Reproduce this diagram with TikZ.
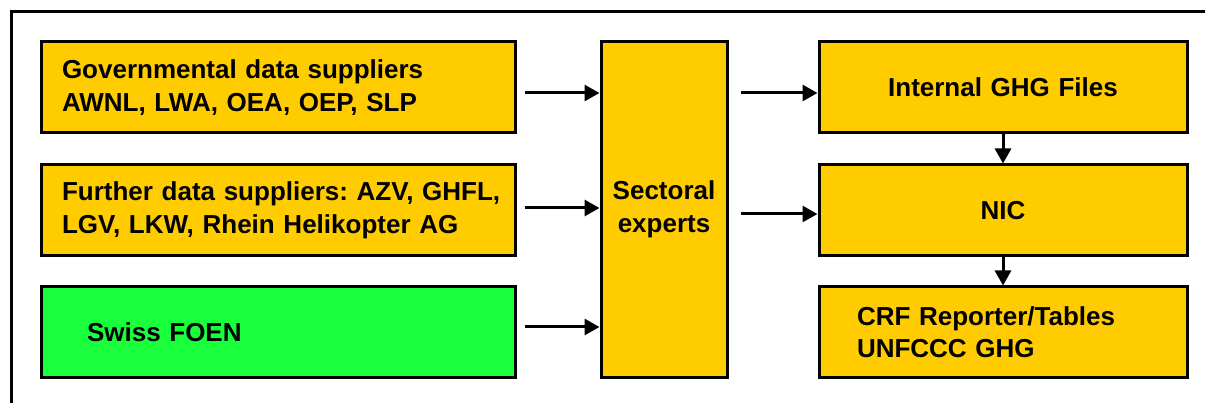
\documentclass[tikz,border=0pt]{standalone}
\usepackage{fontspec}
\setmainfont{Liberation Sans}
\usetikzlibrary{positioning,arrows.meta}
\definecolor{boxyellow}{HTML}{FFCC00}
\definecolor{boxgreen}{HTML}{1AFF3C}
\frenchspacing
\tikzset{
  box/.style={draw, line width=3pt, fill=boxyellow, inner ysep=0pt,
    font=\bfseries\fontsize{26}{32.5}\selectfont},
  supplier/.style={box, minimum width=474pt, minimum height=91pt,
    text width=432pt, inner xsep=21pt, align=left},
  output/.style={box, minimum width=368pt, minimum height=91pt,
    text width=292pt, inner xsep=38pt},
  flow/.style={line width=3pt, -{Triangle[length=15pt,width=16pt]}}
}
\begin{document}
\begin{tikzpicture}[x=1pt, y=-1pt]
  \useasboundingbox (0,0) rectangle (1205,403);
  \draw[line width=3pt] (11.5,403) -- (11.5,11.5) -- (1205,11.5);

  % Define nodes
  \node[supplier] (gov) at (278,87.5) {Governmental data suppliers\\AWNL, LWA, OEA, OEP, SLP};
  \node[supplier, below=29pt of gov] (further) {\mbox{Further data suppliers: AZV, GHFL,}\\LGV, LKW, Rhein Helikopter AG};
  \node[supplier, below=28pt of further, fill=boxgreen, minimum height=90pt,
        text width=382pt, inner xsep=46pt] (foen) {Swiss FOEN};
  \node[box, right=83pt of gov.north east, anchor=north west, minimum width=126pt,
        minimum height=335pt, align=center] (sect) {Sectoral\\experts};
  \node[output, right=89pt of sect.north east, anchor=north west, align=center] (ghg) {Internal GHG Files};
  \node[output, below=29pt of ghg, align=center] (nic) {NIC};
  \node[output, below=28pt of nic, minimum height=90pt, align=left] (crf) {CRF Reporter/Tables\\UNFCCC GHG};

  % Connect the nodes
  \draw[flow] ([xshift=8pt,yshift=-5.5pt]gov.east) -- ([yshift=-5.5pt]gov.east -| sect.west);
  \draw[flow] ([xshift=8pt,yshift=2.5pt]further.east) -- ([yshift=2.5pt]further.east -| sect.west);
  \draw[flow] ([xshift=8pt,yshift=5pt]foen.east) -- ([yshift=5pt]foen.east -| sect.west);
  \draw[flow] ([xshift=12pt,yshift=-5.5pt]sect.east |- ghg.west) -- ([yshift=-5.5pt]ghg.west);
  \draw[flow] ([xshift=12pt,yshift=-3.5pt]sect.east |- nic.west) -- ([yshift=-3.5pt]nic.west);
  \draw[flow] (ghg) -- (nic);
  \draw[flow] (nic) -- (crf);

\end{tikzpicture}
\end{document}
